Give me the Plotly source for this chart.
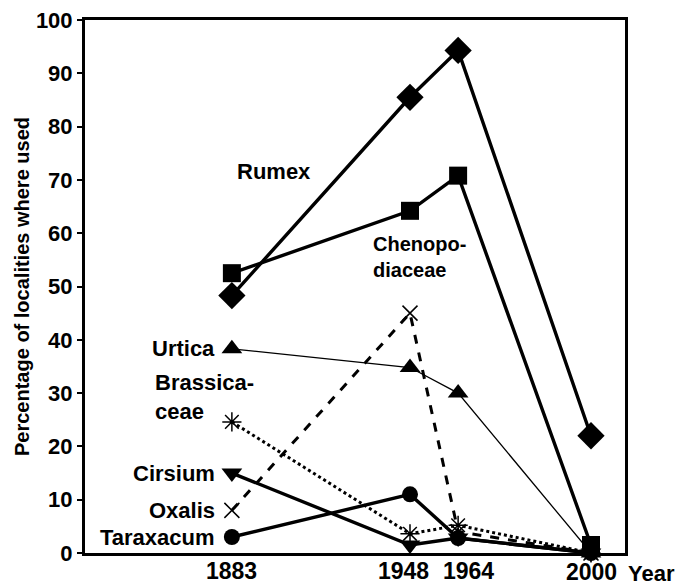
import plotly.graph_objects as go

years = ["1883", "1948", "1964", "2000"]
year_slot = [0.0, 0.496, 0.630, 1.0]  # horizontal placement of the survey years on the axis

rumex = [48.3, 85.5, 94.3, 22.0]
chenopodiaceae = [52.5, 64.2, 70.8, 1.5]
urtica = [38.3, 34.8, 30.0, 0.0]
brassicaceae = [24.6, 3.6, 5.2, 0.0]
oxalis = [8.0, 45.0, 4.0, 0.0]
cirsium = [15.0, 1.5, 2.8, 0.0]
taraxacum = [3.0, 11.0, 2.8, 0.0]

y_ticks = [0, 10, 20, 30, 40, 50, 60, 70, 80, 90, 100]

FONT = "Liberation Sans, Arial, sans-serif"

W, H = 676, 586
L, R, T, B = 85, 51, 20, 33
PLOT_W, PLOT_H = W - L - R, H - T - B

fig = go.Figure()

def add(vals, symbol, size, lw, dash="solid", mline=0):
    fig.add_trace(go.Scatter(
        x=year_slot, y=vals, mode="lines+markers",
        line=dict(color="black", width=lw, dash=dash),
        marker=dict(symbol=symbol, size=size, color="black",
                    line=dict(color="black", width=mline)),
        cliponaxis=False, showlegend=False, hoverinfo="skip"))

add(urtica, "triangle-up", 18, 1.3)
add(brassicaceae, "asterisk-open", 16, 3, dash="dot", mline=1.5)
add(oxalis, "x-thin-open", 15, 3, dash="dash", mline=1.5)
add(cirsium, "triangle-down", 18, 3.4)
add(taraxacum, "circle", 16, 3.4)
add(chenopodiaceae, "square", 18, 3.4)
add(rumex, "diamond", 21, 3.4)

anns = []
def px(xpix):
    return (xpix - L) / PLOT_W

def py(ypix):
    return (H - B - ypix) / PLOT_H

def lab(text, x, y, xanchor, size=22):
    anns.append(dict(text=text, x=px(x), y=y, xref="paper", yref="y", xanchor=xanchor,
                     yanchor="middle", showarrow=False, align="left",
                     font=dict(family=FONT, size=size, color="black")))

lab("<b>Rumex</b>", 235, 71.5, "left")
lab("<b>Chenopo-</b><br><b>diaceae</b>", 371, 55.5, "left", size=20)
lab("<b>Urtica</b>", 217, 38.3, "right")
lab("<b>Brassica-</b><br><b>ceae</b>", 153, 29.2, "left")
lab("<b>Cirsium</b>", 217, 15.0, "right")
lab("<b>Oxalis</b>", 217, 8.0, "right")
lab("<b>Taraxacum</b>", 217, 3.0, "right")

# year labels along the bottom axis (slightly spread like the reference)
year_label_nudge = [0, -7, 10, 1]
year_label_y = [571, 571, 571, 572]
for yr, xs, dx, yy in zip(years, year_slot, year_label_nudge, year_label_y):
    anns.append(dict(text="<b>%s</b>" % yr, x=xs, y=py(yy), xref="x", yref="paper",
                     xshift=dx, xanchor="center", yanchor="middle", showarrow=False,
                     font=dict(family=FONT, size=23, color="black")))
anns.append(dict(text="<b>Year</b>", x=px(626), y=py(573), xref="paper", yref="paper",
                 xanchor="left", yanchor="middle", showarrow=False,
                 font=dict(family=FONT, size=22, color="black")))

fig.update_layout(
    width=W, height=H,
    margin=dict(l=L, r=R, t=T, b=B),
    paper_bgcolor="white", plot_bgcolor="white",
    font=dict(family=FONT, color="black"),
    annotations=anns,
    xaxis=dict(range=[-0.409, 1.0947], showticklabels=False,
               showgrid=False, zeroline=False, showline=True, mirror=True,
               linecolor="black", linewidth=3, ticks="", automargin=False),
    yaxis=dict(range=[0, 100], tickvals=y_ticks,
               ticktext=["<b>%d</b>" % v for v in y_ticks],
               showgrid=False, zeroline=False, showline=True, mirror=True,
               linecolor="black", linewidth=3, ticks="outside", ticklen=5,
               tickwidth=2, tickcolor="black", automargin=False,
               tickfont=dict(family=FONT, size=22, color="black"),
               title=dict(text="<b>Percentage of localities where used</b>",
                          font=dict(family=FONT, size=20, color="black"),
                          standoff=1)),
)

fig.write_html("out.html", config={"displayModeBar": False},
               post_script="document.body.style.margin='0';")
